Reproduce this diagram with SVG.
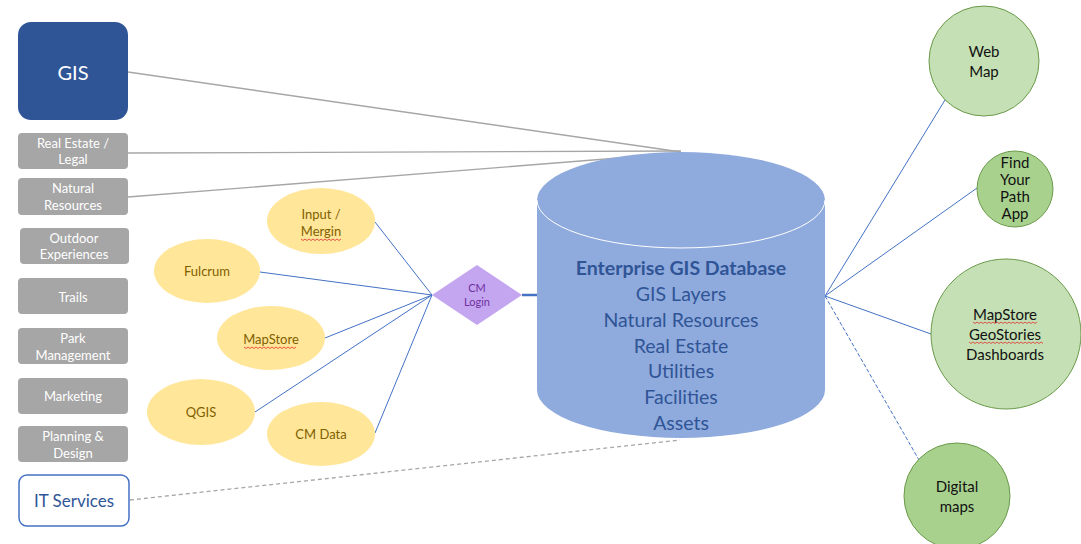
<svg xmlns="http://www.w3.org/2000/svg" width="1081" height="544" viewBox="0 0 1081 544">
<style>
text{font-family:Lato,"Open Sans","Liberation Sans",sans-serif;text-anchor:middle}
.gray rect{fill:#A6A6A6}
.gray text{fill:#fff;font-size:13px}
.yel ellipse{fill:#FFE699}
.yel text{fill:#7F6000;font-size:13px}
.grn circle{stroke:#6A9A4A;stroke-width:1}
.grn text{fill:#111;font-size:15px}
.gl{stroke:#A6A6A6;stroke-width:1.3;fill:none}
.bl{stroke:#4472C4;stroke-width:1;fill:none}
.db text{fill:#2F5597;font-size:19.5px}
.sq{stroke:#E03030;stroke-width:0.8;fill:none}
</style>
<rect width="1081" height="544" fill="#fff"/>
<g id="connectors">
<line class="gl" x1="128" y1="72" x2="681" y2="152"/>
<line class="gl" x1="128" y1="153" x2="681" y2="151"/>
<line class="gl" x1="128" y1="197" x2="681" y2="153"/>
<line class="gl" x1="130" y1="500" x2="680" y2="440" stroke-dasharray="4,3"/>
<line class="bl" x1="375" y1="222" x2="432" y2="295"/>
<line class="bl" x1="260" y1="272" x2="432" y2="295"/>
<line class="bl" x1="325" y1="338" x2="432" y2="295"/>
<line class="bl" x1="255" y1="412" x2="432" y2="295"/>
<line class="bl" x1="375" y1="433" x2="432" y2="295"/>
<line x1="522" y1="295" x2="538" y2="295" stroke="#4472C4" stroke-width="2.5"/>
<line class="bl" x1="825" y1="296" x2="945" y2="100"/>
<line class="bl" x1="825" y1="296" x2="977" y2="188"/>
<line class="bl" x1="825" y1="296" x2="931" y2="334"/>
<line class="bl" x1="825" y1="296" x2="919" y2="460" stroke-dasharray="4,2"/>
</g>
<g id="gis">
<rect x="18" y="22" width="110" height="98" rx="13" fill="#2F5597"/>
<text x="73" y="80" fill="#fff" font-size="20">GIS</text>
</g>
<g id="real-estate" class="gray">
<rect x="18" y="133" width="110" height="36" rx="4"/>
<text x="73" y="148">Real Estate /</text>
<text x="73" y="164">Legal</text>
</g>
<g id="natural-resources" class="gray">
<rect x="18" y="178" width="110" height="37" rx="4"/>
<text x="73" y="193">Natural</text>
<text x="73" y="210">Resources</text>
</g>
<g id="outdoor" class="gray">
<rect x="20" y="228" width="109" height="36" rx="4"/>
<text x="74" y="243">Outdoor</text>
<text x="74" y="259">Experiences</text>
</g>
<g id="trails" class="gray">
<rect x="18" y="278" width="110" height="36" rx="4"/>
<text x="73" y="302">Trails</text>
</g>
<g id="park" class="gray">
<rect x="18" y="328" width="110" height="36" rx="4"/>
<text x="73" y="343">Park</text>
<text x="73" y="360">Management</text>
</g>
<g id="marketing" class="gray">
<rect x="18" y="378" width="110" height="36" rx="4"/>
<text x="73" y="401">Marketing</text>
</g>
<g id="planning" class="gray">
<rect x="18" y="426" width="110" height="36" rx="4"/>
<text x="73" y="441">Planning &amp;</text>
<text x="73" y="458">Design</text>
</g>
<g id="it-services">
<rect x="19" y="475" width="110" height="51" rx="8" fill="#fff" stroke="#4472C4" stroke-width="1.5"/>
<text x="74" y="507" fill="#2F5597" font-size="17">IT Services</text>
</g>
<g id="input-mergin" class="yel">
<ellipse cx="321" cy="221" rx="54" ry="33"/>
<text x="321" y="219">Input /</text>
<text x="321" y="236">Mergin</text>
<path class="sq" d="M301 239 l2 1.5 l2 -1.5 l2 1.5 l2 -1.5 l2 1.5 l2 -1.5 l2 1.5 l2 -1.5 l2 1.5 l2 -1.5 l2 1.5 l2 -1.5 l2 1.5 l2 -1.5 l2 1.5 l2 -1.5 l2 1.5 l2 -1.5 l2 1.5 l2 -1.5"/>
</g>
<g id="fulcrum" class="yel">
<ellipse cx="207" cy="271" rx="53" ry="32"/>
<text x="207" y="276">Fulcrum</text>
</g>
<g id="mapstore" class="yel">
<ellipse cx="271" cy="338" rx="54" ry="32"/>
<text x="271" y="344">MapStore</text>
<path class="sq" d="M244 347 l2 1.5 l2 -1.5 l2 1.5 l2 -1.5 l2 1.5 l2 -1.5 l2 1.5 l2 -1.5 l2 1.5 l2 -1.5 l2 1.5 l2 -1.5 l2 1.5 l2 -1.5 l2 1.5 l2 -1.5 l2 1.5 l2 -1.5 l2 1.5 l2 -1.5 l2 1.5 l2 -1.5 l2 1.5 l2 -1.5 l2 1.5 l2 -1.5"/>
</g>
<g id="qgis" class="yel">
<ellipse cx="201" cy="412" rx="54" ry="33"/>
<text x="201" y="417">QGIS</text>
</g>
<g id="cm-data" class="yel">
<ellipse cx="321" cy="434" rx="54" ry="32"/>
<text x="321" y="439">CM Data</text>
</g>
<g id="cm-login">
<polygon points="432,295 477,265 522,295 477,325" fill="#C4A6F0"/>
<text x="477" y="292" fill="#7030A0" font-size="11">CM</text>
<text x="477" y="306" fill="#7030A0" font-size="11">Login</text>
</g>
<g id="database" class="db">
<path d="M537 200 V390 A144 48 0 0 0 825 390 V200 A144 48 0 0 0 537 200 Z" fill="#8FAADC"/>
<path d="M537 200 A144 48 0 0 0 825 200" fill="none" stroke="#fff" stroke-width="1"/>
<text x="681" y="275" font-weight="bold">Enterprise GIS Database</text>
<text x="681" y="301">GIS Layers</text>
<text x="681" y="327">Natural Resources</text>
<text x="681" y="353">Real Estate</text>
<text x="681" y="378">Utilities</text>
<text x="681" y="404">Facilities</text>
<text x="681" y="430">Assets</text>
</g>
<g id="web-map" class="grn">
<circle cx="984" cy="61" r="55" fill="#C5E0B4"/>
<text x="984" y="57">Web</text>
<text x="984" y="77">Map</text>
</g>
<g id="find-your-path" class="grn">
<circle cx="1015" cy="189" r="38" fill="#A9D18E"/>
<text x="1015" y="168" font-size="12.5">Find</text>
<text x="1015" y="185" font-size="12.5">Your</text>
<text x="1015" y="202" font-size="12.5">Path</text>
<text x="1015" y="219" font-size="12.5">App</text>
</g>
<g id="mapstore-geostories" class="grn">
<circle cx="1006" cy="334" r="75" fill="#C5E0B4"/>
<text x="1005" y="320">MapStore</text>
<text x="1005" y="340">GeoStories</text>
<text x="1005" y="360">Dashboards</text>
<path class="sq" d="M973 322 l2 1.5 l2 -1.5 l2 1.5 l2 -1.5 l2 1.5 l2 -1.5 l2 1.5 l2 -1.5 l2 1.5 l2 -1.5 l2 1.5 l2 -1.5 l2 1.5 l2 -1.5 l2 1.5 l2 -1.5 l2 1.5 l2 -1.5 l2 1.5 l2 -1.5 l2 1.5 l2 -1.5 l2 1.5 l2 -1.5 l2 1.5 l2 -1.5 l2 1.5 l2 -1.5 l2 1.5 l2 -1.5 l2 1.5 l2 -1.5"/>
<path class="sq" d="M969 342 l2 1.5 l2 -1.5 l2 1.5 l2 -1.5 l2 1.5 l2 -1.5 l2 1.5 l2 -1.5 l2 1.5 l2 -1.5 l2 1.5 l2 -1.5 l2 1.5 l2 -1.5 l2 1.5 l2 -1.5 l2 1.5 l2 -1.5 l2 1.5 l2 -1.5 l2 1.5 l2 -1.5 l2 1.5 l2 -1.5 l2 1.5 l2 -1.5 l2 1.5 l2 -1.5 l2 1.5 l2 -1.5 l2 1.5 l2 -1.5 l2 1.5 l2 -1.5 l2 1.5 l2 -1.5 l2 1.5"/>
</g>
<g id="digital-maps" class="grn">
<circle cx="957" cy="496" r="53" fill="#A9D18E"/>
<text x="957" y="492">Digital</text>
<text x="957" y="512">maps</text>
</g>
</svg>
